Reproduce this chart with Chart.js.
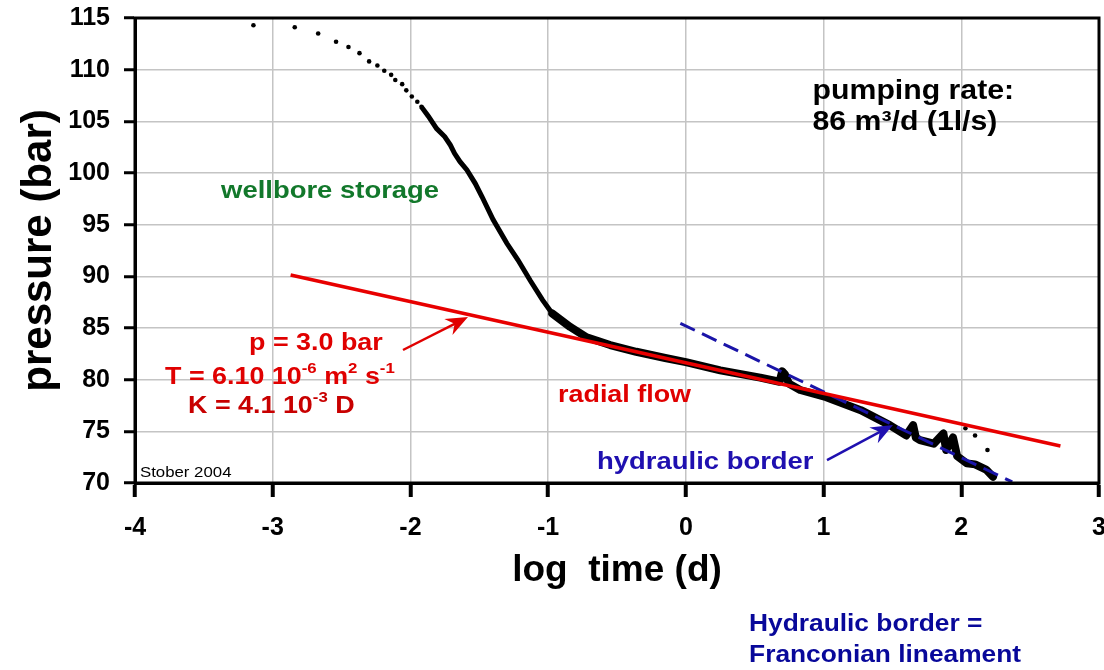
<!DOCTYPE html>
<html>
<head>
<meta charset="utf-8">
<title>Pressure vs log time</title>
<script src="https://cdn.jsdelivr.net/npm/chart.js@4.4.1/dist/chart.umd.min.js"></script>
<style>
    html, body { margin: 0; padding: 0; background: #fff; }
    #wrap { width: 1104px; height: 670px; }
</style>
</head>
<body>
<div id="wrap"><canvas id="pressureChart" width="1104" height="670"></canvas></div>
<script>
/* =========================
   DATA
========================== */
// early wellbore storage readings, widely spaced dots
const earlyLogTime = [-3.14, -2.84, -2.67, -2.54, -2.45, -2.37, -2.30, -2.24, -2.19, -2.14, -2.11, -2.06, -2.03, -1.99, -1.95, -1.92];
const earlyPressure = [114.3, 114.1, 113.5, 112.7, 112.2, 111.6, 110.8, 110.4, 109.9, 109.5, 109.0, 108.6, 108.0, 107.4, 106.9, 106.4];

// denser part of the storage curve
const storageLogTime = [-1.92, -1.87, -1.81, -1.75, -1.71, -1.68, -1.64, -1.59, -1.53, -1.48, -1.40, -1.30, -1.22, -1.13, -1.04, -0.97];
const storagePressure = [106.4, 105.5, 104.3, 103.5, 102.7, 101.9, 101.1, 100.3, 99.0, 97.7, 95.5, 93.2, 91.6, 89.6, 87.7, 86.4];

// radial flow + hydraulic border part (thick noisy band)
const lateLogTime = [-0.97, -0.84, -0.72, -0.55, -0.36, -0.15, 0, 0.25, 0.54, 0.68, 0.70, 0.72, 0.75, 0.83, 1.02, 1.27, 1.48, 1.60, 1.65, 1.67, 1.70, 1.80, 1.87, 1.89, 1.94, 1.97, 2.04, 2.10, 2.18, 2.23];
const latePressure = [86.4, 85.1, 84.1, 83.35, 82.7, 82.1, 81.7, 80.9, 80.2, 79.8, 80.8, 80.5, 79.6, 79.0, 78.3, 77.05, 75.6, 74.6, 75.6, 74.4, 74.15, 73.8, 74.8, 73.2, 74.4, 72.6, 71.9, 71.8, 71.3, 70.6];

// loose dots at the end
const strayLogTime = [2.03, 2.10, 2.19];
const strayPressure = [75.3, 74.6, 73.2];

// straight line fits
const radialFitLogTime = [-2.87, 2.72];
const radialFitPressure = [90.13, 73.58];
const borderFitLogTime = [-0.04, 2.37];
const borderFitPressure = [85.45, 70.1];

// axes
const xTicks = [-4, -3, -2, -1, 0, 1, 2, 3];
const yTicks = [70, 75, 80, 85, 90, 95, 100, 105, 110, 115];

const zip = (xs, ys) => xs.map((x, i) => ({ x: x, y: ys[i] }));

/* =========================
   ANNOTATIONS (data coords)
========================== */
const FONT = "'Liberation Sans', Arial, sans-serif";
const STRETCH = 1.12;   // the original text is slightly wide

const notes = [
    { at: [-3.375, 98.26], size: 24.5, color: "#12782b", runs: [["wellbore storage"]] },
    { at: [0.92, 107.89], size: 27, color: "#000", runs: [["pumping rate:"]] },
    { at: [0.92, 104.84], size: 27, color: "#000", runs: [["86 m³/d (1l/s)"]] },
    { at: [-3.172, 83.5], size: 24, color: "#e00000", runs: [["p = 3.0 bar"]] },
    { at: [-3.782, 80.26], size: 24, color: "#e00000", runs: [["T = 6.10 10"], ["-6", 1], [" m"], ["2", 1], [" s"], ["-1", 1]] },
    { at: [-3.615, 77.45], size: 24, color: "#c80000", runs: [["K = 4.1 10"], ["-3", 1], [" D"]] },
    { at: [-0.928, 78.52], size: 24, color: "#e00000", runs: [["radial flow"]] },
    { at: [-0.645, 72.03], size: 24.5, color: "#1f10b0", runs: [["hydraulic border"]] },
    { at: [-3.964, 70.97], size: 15, color: "#000", bold: false, runs: [["Stober 2004"]] },
    { at: [0.459, 56.26], size: 23.5, color: "#08089a", runs: [["Hydraulic border ="]] },
    { at: [0.459, 53.26], size: 23.5, color: "#08089a", runs: [["Franconian lineament"]] }
];

const arrows = [
    { from: [-2.054, 82.87], to: [-1.582, 86.06], color: "#e00000" },
    { from: [1.025, 72.22], to: [1.504, 75.61], color: "#1f10b0" }
];

const annotationPlugin = {
    id: "annotations",
    afterDatasetsDraw(chart) {
        const { ctx, chartArea: a, scales: { x, y } } = chart;

        // frame on top and right
        ctx.save();
        ctx.strokeStyle = "#000";
        ctx.lineWidth = 3;
        ctx.strokeRect(a.left, a.top, a.right - a.left, a.bottom - a.top);
        ctx.restore();

        arrows.forEach(ar => {
            const x0 = x.getPixelForValue(ar.from[0]), y0 = y.getPixelForValue(ar.from[1]);
            const x1 = x.getPixelForValue(ar.to[0]), y1 = y.getPixelForValue(ar.to[1]);
            const ang = Math.atan2(y1 - y0, x1 - x0);
            ctx.save();
            ctx.strokeStyle = ar.color;
            ctx.fillStyle = ar.color;
            ctx.lineWidth = 2.5;
            ctx.beginPath();
            ctx.moveTo(x0, y0);
            ctx.lineTo(x1 - 10 * Math.cos(ang), y1 - 10 * Math.sin(ang));
            ctx.stroke();
            ctx.translate(x1, y1);
            ctx.rotate(ang);
            ctx.beginPath();
            ctx.moveTo(0, 0);
            ctx.lineTo(-22, -9);
            ctx.lineTo(-15, 0);
            ctx.lineTo(-22, 9);
            ctx.closePath();
            ctx.fill();
            ctx.restore();
        });

        notes.forEach(n => {
            const px = x.getPixelForValue(n.at[0]);
            const py = y.getPixelForValue(n.at[1]);
            const weight = n.bold === false ? "normal" : "bold";
            ctx.save();
            ctx.translate(px, py);
            ctx.scale(STRETCH, 1);
            ctx.fillStyle = n.color;
            ctx.textBaseline = "middle";
            ctx.textAlign = "left";
            let cx = 0;
            n.runs.forEach(([txt, sup]) => {
                const s = sup ? Math.round(n.size * 0.62) : n.size;
                ctx.font = `${weight} ${s}px ${FONT}`;
                ctx.fillText(txt, cx, sup ? -n.size * 0.32 : 0);
                cx += ctx.measureText(txt).width;
            });
            ctx.restore();
        });
    }
};

/* =========================
   CHART.JS
========================== */
const ctx = document.getElementById("pressureChart").getContext("2d");

new Chart(ctx, {
    type: "scatter",
    data: {
        datasets: [
            { label: "radial fit", data: zip(radialFitLogTime, radialFitPressure), showLine: true, borderColor: "#e80000", borderWidth: 3.5, pointRadius: 0, order: 0 },
            { label: "border fit", data: zip(borderFitLogTime, borderFitPressure), showLine: true, borderColor: "#1a14a8", borderWidth: 3, borderDash: [16, 8], pointRadius: 0, order: 1 },
            { label: "early", data: zip(earlyLogTime, earlyPressure), showLine: false, pointRadius: 2.3, pointBackgroundColor: "#000", pointBorderWidth: 0, order: 2 },
            { label: "storage", data: zip(storageLogTime, storagePressure), showLine: true, borderColor: "#000", borderWidth: 5, pointRadius: 0, order: 3 },
            { label: "late", data: zip(lateLogTime, latePressure), showLine: true, borderColor: "#000", borderWidth: 8, borderJoinStyle: "round", borderCapStyle: "round", pointRadius: 0, order: 4 },
            { label: "stray", data: zip(strayLogTime, strayPressure), showLine: false, pointRadius: 2.3, pointBackgroundColor: "#000", pointBorderWidth: 0, order: 5 }
        ]
    },
    options: {
        responsive: false,
        animation: false,
        layout: { padding: { top: 18, right: 5, left: 0, bottom: 0 } },
        plugins: {
            legend: { display: false },
            tooltip: { enabled: false }
        },
        scales: {
            x: {
                type: "linear",
                min: xTicks[0],
                max: xTicks[xTicks.length - 1],
                afterBuildTicks: (s) => { s.ticks = xTicks.map(v => ({ value: v })); },
                afterFit: (s) => { s.height = 187; s.paddingLeft = 0; s.paddingRight = 0; },
                grid: { color: "#c4c4c4", lineWidth: 1.5, tickColor: "#000", tickWidth: 4, tickLength: 14 },
                border: { color: "#000", width: 3 },
                ticks: { color: "#000", padding: 16, maxRotation: 0, font: { family: FONT, size: 25, weight: "bold" } },
                title: { display: true, text: "log  time (d)", color: "#000", padding: { top: 0, bottom: 77 }, font: { family: FONT, size: 37, weight: "bold" } }
            },
            y: {
                type: "linear",
                min: yTicks[0],
                max: yTicks[yTicks.length - 1],
                afterBuildTicks: (s) => { s.ticks = yTicks.map(v => ({ value: v })); },
                afterFit: (s) => { s.width = 135; s.paddingTop = 0; s.paddingBottom = 0; },
                grid: { color: "#c4c4c4", lineWidth: 1.5, tickColor: "#000", tickWidth: 3, tickLength: 11 },
                border: { color: "#000", width: 3 },
                ticks: { color: "#000", padding: 14, font: { family: FONT, size: 25, weight: "bold" } },
                title: { display: true, text: "pressure (bar)", color: "#000", padding: { top: 14, bottom: 0 }, font: { family: FONT, size: 42, weight: "bold" } }
            }
        }
    },
    plugins: [annotationPlugin]
});
</script>
</body>
</html>
